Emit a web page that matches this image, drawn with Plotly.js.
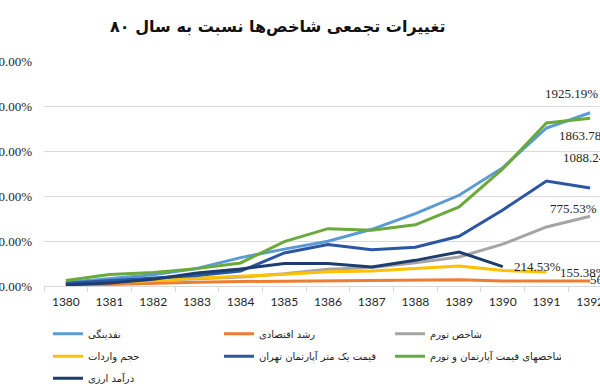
<!DOCTYPE html>
<html>
<head>
<meta charset="utf-8">
<script src="https://cdn.plot.ly/plotly-3.0.1.min.js"></script>
<style>
html,body{margin:0;padding:0;background:#fff;overflow:hidden;width:600px;height:391px;}
#chart{position:absolute;left:0;top:0;width:640px;height:391px;}
</style>
</head>
<body>
<div id="chart"></div>
<script>
// ---- data (values are cumulative % change relative to 1380) ----
const years = ['1380','1381','1382','1383','1384','1385','1386','1387','1388','1389','1390','1391','1392'];
const yTicks = [0, 500, 1000, 1500, 2000, 2500];

const seriesNames = [
  'نقدینگی',
  'رشد اقتصادی',
  'شاخص تورم',
  'حجم واردات',
  'قیمت یک متر آپارتمان تهران',
  'جمع شاخصهای قیمت آپارتمان و تورم',
  'درآمد ارزی'
];

const liquidity   = [40, 85, 125, 195, 315, 410, 497, 630, 804, 1008, 1315, 1756, 1925.19];
const growth      = [5, 20, 30, 42, 50, 55, 57, 58, 62, 70, 55, 55, 56.20];
const inflation   = [22, 42, 68, 82, 100, 135, 185, 205, 258, 322, 465, 656, 775.53];
const imports     = [15, 35, 60, 85, 105, 130, 158, 167, 195, 222, 172, 155.38, null];
const apartment   = [30, 60, 90, 118, 165, 367, 460, 404, 430, 552, 845, 1167, 1088.24];
const sumAptInf   = [60, 127, 150, 193, 256, 493, 637, 619, 680, 878, 1300, 1811, 1863.78];
const fxRevenue   = [12, 32, 75, 145, 190, 249, 249, 211, 285, 378, 214.53, null, null];

const seriesValues = [liquidity, growth, inflation, imports, apartment, sumAptInf, fxRevenue];

// ---- styles ----
const colors = ['#5B9BD5', '#ED7D31', '#A5A5A5', '#FFC000', '#2B56A3', '#6AAA3A', '#1D3D6E'];
const legendOf = ['legend', 'legend', 'legend', 'legend2', 'legend2', 'legend2', 'legend3'];
// label offsets (px) from the last point of each series
const labelShift = [[-19, 19], [20, 1], [-17, 8], [37, 0], [-1, 31], [-5, -17], [35, 0]];

const traces = seriesNames.map((name, i) => ({
  type: 'scatter',
  mode: 'lines',
  name: name,
  x: years,
  y: seriesValues[i],
  line: {color: colors[i], width: 3},
  legend: legendOf[i],
  connectgaps: false,
  hoverinfo: 'skip'
}));

const annotations = seriesValues.map((vals, i) => {
  let k = vals.length - 1;
  while (vals[k] === null) k--;
  return {
    x: k, y: vals[k], xref: 'x', yref: 'y',
    text: vals[k].toFixed(2) + '%',
    showarrow: false, xanchor: 'center', yanchor: 'middle',
    xshift: labelShift[i][0], yshift: labelShift[i][1],
    font: {family: 'Liberation Serif, serif', size: 13, color: '#262626'}
  };
});

const legendBase = {
  orientation: 'h', xref: 'paper', yref: 'paper', x: 0.007, xanchor: 'left', yanchor: 'middle',
  entrywidthmode: 'pixels', entrywidth: 126,
  font: {family: 'DejaVu Sans, sans-serif', size: 10, color: '#222'},
  bgcolor: 'rgba(0,0,0,0)', borderwidth: 0, itemwidth: 30, tracegroupgap: 0
};

const layout = {
  width: 640, height: 391,
  margin: {l: 44, r: 28, t: 61, b: 105, autoexpand: false},
  paper_bgcolor: '#fff', plot_bgcolor: '#fff',
  showlegend: true,
  title: {
    text: 'تغییرات تجمعی شاخص‌ها نسبت به سال ۸۰',
    xref: 'container', yref: 'container', x: 0.434, xanchor: 'center', y: 0.933, yanchor: 'middle',
    font: {family: 'DejaVu Sans, sans-serif', size: 16, color: '#111', weight: 'bold'}
  },
  xaxis: {
    type: 'category', range: [-0.5, 12.5], fixedrange: true,
    showgrid: false, showline: true, linecolor: '#d9d9d9', linewidth: 1,
    ticks: 'outside', tickson: 'boundaries', ticklen: 5, tickcolor: '#d9d9d9',
    ticklabelstandoff: 5,
    tickfont: {family: 'Lato, sans-serif', size: 12, color: '#262626'},
    automargin: false, zeroline: false
  },
  yaxis: {
    range: [0, 2500], tickvals: yTicks, ticktext: yTicks.map(v => v.toFixed(2) + '%'),
    showgrid: true, gridcolor: '#d9d9d9', gridwidth: 1, zeroline: false, showline: false,
    ticks: '', ticklabelstandoff: 11,
    tickfont: {family: 'Liberation Serif, serif', size: 13, color: '#262626'},
    automargin: false, fixedrange: true
  },
  legend: Object.assign({}, legendBase, {y: -0.212}),
  legend2: Object.assign({}, legendBase, {y: -0.312}),
  legend3: Object.assign({}, legendBase, {y: -0.410}),
  annotations: annotations
};

Plotly.newPlot('chart', traces, layout, {displayModeBar: false, staticPlot: true});
</script>
</body>
</html>
